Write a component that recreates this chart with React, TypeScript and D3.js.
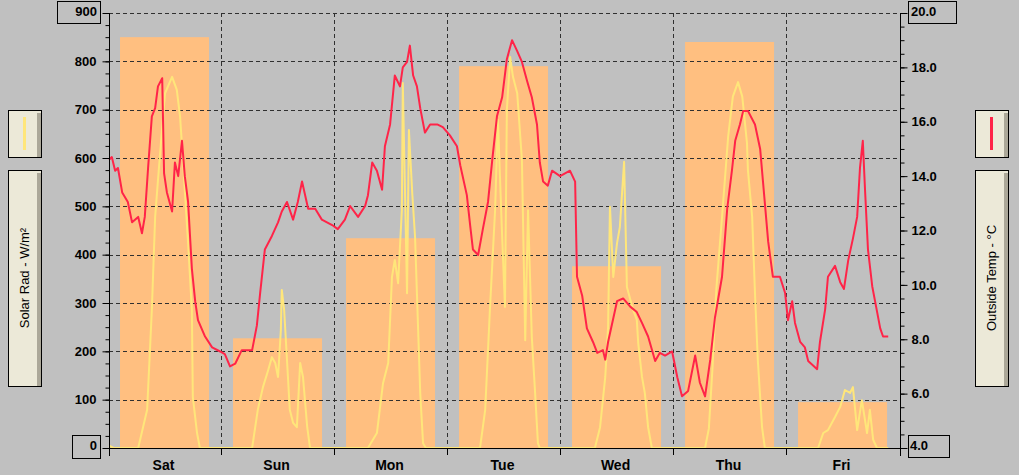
import React, { useEffect, useRef } from 'react';
import * as d3 from 'd3';

// daily bars (solar energy per day, read on the left W/m² scale)
const days = ['Sat', 'Sun', 'Mon', 'Tue', 'Wed', 'Thu', 'Fri'];
const dailySolar = [850, 227, 434, 790, 376, 840, 95];

const solarTicks = [100, 200, 300, 400, 500, 600, 700, 800];
const tempTicks = [6, 8, 10, 12, 14, 16, 18];

// [hours since Sat 00:00, W/m²]
const solarReadings: [number, number][] = [
  [0, 5], [1, 0], [6.2, 0], [8.1, 79], [9.1, 286], [9.8, 478], [10.4, 554], [11.3, 664], [11.9, 734],
  [13.4, 768], [14.4, 741], [15.1, 685], [15.7, 596], [16.8, 424], [17.6, 286], [17.8, 106], [18.7, 31], [19.3, 0],
  [30.4, 0], [31.6, 79], [32.7, 126], [33.8, 161], [34.6, 188], [35.3, 176], [35.9, 147], [36.5, 244], [36.7, 327],
  [37.2, 286], [37.8, 182], [38.4, 79], [39.1, 52], [39.9, 43], [40.6, 176], [41.2, 147], [42.1, 43], [42.7, 0],
  [55.0, 0], [56.9, 31], [58.2, 134], [59.3, 176], [60.1, 354], [60.7, 389], [61.4, 341], [62.2, 492], [62.4, 755],
  [63.3, 320], [63.7, 658], [64.4, 528], [65.0, 437], [65.4, 320], [66.1, 114], [66.7, 10], [67.3, 0],
  [78.8, 0], [79.9, 79], [80.9, 286], [82.0, 492], [82.6, 679], [83.5, 437], [84.1, 292], [84.5, 699], [85.2, 809],
  [85.8, 768], [86.7, 734], [87.7, 596], [88.4, 223], [89.0, 492], [89.8, 230], [90.5, 114], [91.1, 10], [91.5, 0],
  [103.2, 0], [104.3, 43], [105.4, 147], [106.0, 250], [106.4, 499], [107.1, 354], [107.9, 424], [108.5, 457],
  [109.4, 592], [110.0, 333], [111.3, 286], [112.1, 265], [112.4, 217], [113.2, 147], [113.8, 114], [114.5, 43], [115.3, 0],
  [126.6, 0], [127.4, 40], [128.2, 170], [129.0, 330], [130.2, 478], [131.5, 644], [132.5, 727], [133.6, 757],
  [134.5, 727], [135.5, 631], [135.7, 575], [136.6, 478], [137.2, 320], [137.8, 182], [138.7, 43], [139.3, 0],
  [150.6, 0], [151.7, 31], [152.7, 37], [154.2, 64], [155.3, 85], [156.3, 120], [157.4, 114], [158.0, 126],
  [158.9, 37], [159.9, 99], [161.0, 31], [161.6, 79], [162.3, 17], [163.1, 0], [165.5, 0],
];

// [hours since Sat 00:00, °C]
const tempReadings: [number, number][] = [
  [0, 14.6], [0.6, 14.7], [1.3, 14.2], [1.9, 14.3], [2.8, 13.4], [4.0, 13.05], [4.9, 12.3], [6.2, 12.5], [7.0, 11.9],
  [7.6, 12.5], [8.3, 14.3], [9.1, 16.2], [9.8, 16.5], [10.4, 17.3], [11.3, 17.6], [11.7, 14.1], [12.3, 13.4],
  [13.4, 12.7], [14.0, 14.5], [14.7, 14.0], [15.5, 15.3], [16.1, 14.0], [16.8, 13.05], [17.6, 10.6], [18.3, 9.4],
  [18.9, 8.7], [20.4, 8.1], [21.9, 7.7], [23.6, 7.55], [24.6, 7.45], [25.7, 7.0], [26.8, 7.1], [28.2, 7.6],
  [30.4, 7.6], [31.4, 8.5], [32.1, 9.7], [33.1, 11.3], [34.6, 11.8], [35.9, 12.3], [36.7, 12.7], [37.8, 13.05],
  [39.1, 12.4], [40.1, 13.05], [41.0, 13.8], [42.3, 12.8], [43.8, 12.8], [45.2, 12.4], [47.4, 12.2], [48.6, 12.05],
  [50.1, 12.4], [51.2, 12.9], [52.9, 12.5], [54.4, 12.9], [55.0, 13.3], [55.9, 14.5], [56.9, 14.2], [58.0, 13.5],
  [58.6, 15.1], [59.7, 15.9], [60.7, 17.7], [61.8, 17.3], [62.4, 18.0], [63.3, 18.2], [63.9, 18.8], [64.6, 17.7],
  [65.4, 17.3], [66.1, 16.5], [67.1, 15.6], [68.2, 15.9], [69.7, 15.9], [70.9, 15.8], [72.4, 15.5], [73.9, 15.1],
  [74.6, 14.4], [76.0, 13.3], [76.7, 12.2], [77.3, 11.3], [78.4, 11.1], [79.4, 12.05], [80.5, 13.05], [81.4, 14.6],
  [82.4, 16.2], [83.5, 16.9], [84.5, 18.3], [85.6, 19.0], [86.7, 18.6], [87.7, 18.2], [88.8, 17.5], [89.8, 16.9],
  [90.9, 15.9], [91.5, 14.5], [92.2, 13.8], [93.2, 13.65], [94.1, 14.2], [95.8, 14.0], [97.9, 14.2], [99.0, 13.8],
  [99.4, 10.3], [100.5, 9.6], [101.5, 8.4], [102.8, 7.9], [103.7, 7.5], [104.9, 7.6], [105.4, 7.25], [106.0, 7.9],
  [107.9, 9.4], [109.2, 9.5], [110.7, 9.2], [112.1, 9.0], [113.2, 8.6], [114.5, 8.1], [116.0, 7.2], [117.0, 7.5],
  [118.1, 7.4], [119.6, 7.55], [120.7, 6.6], [121.7, 5.9], [123.0, 6.1], [124.5, 7.4], [125.5, 6.4], [126.6, 5.9],
  [127.7, 7.25], [128.7, 8.8], [130.2, 10.3], [131.3, 12.8], [132.3, 14.2], [133.0, 15.3], [134.0, 15.9],
  [134.7, 16.4], [135.7, 16.4], [137.2, 15.9], [138.3, 15.0], [138.9, 13.8], [140.0, 11.6], [141.0, 10.3],
  [142.5, 10.3], [143.6, 9.7], [144.2, 8.7], [145.1, 9.4], [145.7, 8.6], [146.8, 7.9], [147.8, 7.7], [148.5, 7.2],
  [150.4, 6.9], [151.0, 7.9], [152.1, 9.1], [152.7, 10.3], [154.2, 10.7], [155.3, 10.1], [156.1, 9.85],
  [157.0, 10.9], [158.0, 11.7], [158.9, 12.5], [159.5, 14.3], [160.1, 15.3], [160.6, 13.4], [161.2, 11.3],
  [162.1, 9.95], [162.7, 9.4], [163.8, 8.4], [164.4, 8.1], [165.5, 8.1],
];

const FONT = '"Liberation Sans", Arial, sans-serif';

const WeatherChart = () => {
  const chartRef = useRef<SVGSVGElement>(null);

  useEffect(() => {
    document.body.style.margin = '0';

    const width = 1019;
    const height = 475;
    const margin = { top: 13, right: 119, bottom: 27, left: 109 };
    const plotRight = width - margin.right;
    const plotBottom = height - margin.bottom;

    const svg = d3.select(chartRef.current).attr('width', width).attr('height', height);
    svg.selectAll('*').remove();

    svg.append('rect').attr('width', width).attr('height', height).attr('fill', '#c0c0c0');

    // scales
    const xTime = d3.scaleLinear().domain([0, 168]).range([margin.left, plotRight]);
    const xDay = d3.scaleBand().domain(days).range([margin.left, plotRight]).paddingInner(0.2124).paddingOuter(0.106).align(0.46);
    const ySolar = d3.scaleLinear().domain([0, 900]).range([plotBottom, margin.top]);
    const yTemp = d3.scaleLinear().domain([4, 20]).range([plotBottom, margin.top]);
    const dayStart = (d: string) => Math.round(xDay(d)! - xDay.step() * 0.106) + 0.5;

    // daily bars
    svg
      .selectAll('.bar')
      .data(dailySolar)
      .enter()
      .append('rect')
      .attr('class', 'bar')
      .attr('x', (d, i) => xDay(days[i]))
      .attr('y', (d) => ySolar(d))
      .attr('width', xDay.bandwidth())
      .attr('height', (d) => ySolar(0) - ySolar(d))
      .attr('fill', '#ffbf80');

    // grid
    const grid = svg.append('g').attr('stroke', '#303030').attr('stroke-dasharray', '4,3').attr('shape-rendering', 'crispEdges');
    grid
      .selectAll('line.h')
      .data([...solarTicks, 900])
      .enter()
      .append('line')
      .attr('x1', margin.left)
      .attr('x2', plotRight)
      .attr('y1', (d) => Math.round(ySolar(d)) + 0.5)
      .attr('y2', (d) => Math.round(ySolar(d)) + 0.5);
    grid
      .selectAll('line.v')
      .data(days.slice(1))
      .enter()
      .append('line')
      .attr('x1', dayStart)
      .attr('x2', dayStart)
      .attr('y1', margin.top)
      .attr('y2', plotBottom);

    // series
    const solarLine = d3
      .line<[number, number]>()
      .x((d) => xTime(d[0]))
      .y((d) => ySolar(d[1]));
    const tempLine = d3
      .line<[number, number]>()
      .x((d) => xTime(d[0]))
      .y((d) => yTemp(d[1]));

    svg
      .append('path')
      .datum(solarReadings)
      .attr('d', solarLine)
      .attr('fill', 'none')
      .attr('stroke', '#ffe67a')
      .attr('stroke-width', 2)
      .attr('stroke-linejoin', 'round');
    svg
      .append('path')
      .datum(tempReadings)
      .attr('d', tempLine)
      .attr('fill', 'none')
      .attr('stroke', '#ff2448')
      .attr('stroke-width', 2)
      .attr('stroke-linejoin', 'round');

    // frame + bottom axis
    const frame = svg.append('g').attr('stroke', '#000').attr('shape-rendering', 'crispEdges');
    frame.append('line').attr('x1', margin.left - 6).attr('x2', plotRight).attr('y1', plotBottom + 0.5).attr('y2', plotBottom + 0.5);
    frame.append('line').attr('x1', margin.left + 0.5).attr('x2', margin.left + 0.5).attr('y1', margin.top).attr('y2', plotBottom + 8);
    frame.append('line').attr('x1', plotRight + 0.5).attr('x2', plotRight + 0.5).attr('y1', margin.top).attr('y2', plotBottom + 8);
    frame
      .selectAll('line.dt')
      .data(days.slice(1))
      .enter()
      .append('line')
      .attr('x1', dayStart)
      .attr('x2', dayStart)
      .attr('y1', plotBottom)
      .attr('y2', plotBottom + 7);

    svg
      .selectAll('.day-label')
      .data(days)
      .enter()
      .append('text')
      .attr('class', 'day-label')
      .attr('x', (d) => xDay(d)! + xDay.bandwidth() / 2 - 1)
      .attr('y', plotBottom + 22)
      .attr('text-anchor', 'middle')
      .style('font-family', FONT)
      .style('font-weight', 'bold')
      .style('font-size', '14px')
      .text((d) => d);

    // left axis: minor ticks, then major ticks with labels
    svg
      .append('g')
      .attr('transform', `translate(${margin.left + 0.5},0)`)
      .call(d3.axisLeft(ySolar).tickValues(d3.range(0, 901, 25)).tickSize(4).tickFormat(() => ''))
      .call((g) => g.select('.domain').remove());
    svg
      .append('g')
      .attr('transform', `translate(${margin.left + 0.5},0)`)
      .call(d3.axisLeft(ySolar).tickValues([0, ...solarTicks, 900]).tickSize(7).tickPadding(6).tickFormat((d) => (d === 0 || d === 900 ? '' : String(d))))
      .call((g) => g.select('.domain').remove())
      .call((g) => g.selectAll('text').style('font-family', FONT).style('font-weight', 'bold').style('font-size', '13px'));

    // right axis
    svg
      .append('g')
      .attr('transform', `translate(${plotRight + 0.5},0)`)
      .call(d3.axisRight(yTemp).tickValues(d3.range(4, 20.01, 0.5)).tickSize(4).tickFormat(() => ''))
      .call((g) => g.select('.domain').remove());
    svg
      .append('g')
      .attr('transform', `translate(${plotRight + 0.5},0)`)
      .call(d3.axisRight(yTemp).tickValues([4, ...tempTicks, 20]).tickSize(7).tickPadding(4).tickFormat((d) => (d === 4 || d === 20 ? '' : d3.format('.1f')(d as number))))
      .call((g) => g.select('.domain').remove())
      .call((g) => g.selectAll('text').style('font-family', FONT).style('font-weight', 'bold').style('font-size', '13px'));

    // end-value boxes
    const endBoxes = [
      { x: 57, y: 1, w: 43, h: 22, text: '900', tx: 97, ty: 16, anchor: 'end' },
      { x: 72, y: 435, w: 28, h: 23, text: '0', tx: 97, ty: 450, anchor: 'end' },
      { x: 908, y: 1, w: 48, h: 22, text: '20.0', tx: 911, ty: 16, anchor: 'start' },
      { x: 908, y: 435, w: 41, h: 22, text: '4.0', tx: 910, ty: 450, anchor: 'start' },
    ];
    const eb = svg.selectAll('.end-box').data(endBoxes).enter().append('g').attr('class', 'end-box');
    eb.append('rect')
      .attr('x', (d) => d.x + 0.5)
      .attr('y', (d) => d.y + 0.5)
      .attr('width', (d) => d.w)
      .attr('height', (d) => d.h)
      .attr('fill', 'none')
      .attr('stroke', '#000')
      .attr('shape-rendering', 'crispEdges');
    eb.append('text')
      .attr('x', (d) => d.tx)
      .attr('y', (d) => d.ty)
      .attr('text-anchor', (d) => d.anchor)
      .style('font-family', FONT)
      .style('font-weight', 'bold')
      .style('font-size', '13px')
      .text((d) => d.text);

    // legend panels
    const panels = [
      { x: 8, color: '#ffe67a', label: 'Solar Rad - W/m²' },
      { x: 975, color: '#ff2448', label: 'Outside Temp - °C' },
    ];
    panels.forEach((p) => {
      const g = svg.append('g').attr('shape-rendering', 'crispEdges');
      [
        [110, 47],
        [170, 216],
      ].forEach(([y, h]) => {
        g.append('rect').attr('x', p.x + 0.5).attr('y', y + 0.5).attr('width', 33).attr('height', h).attr('fill', '#ece9d8').attr('stroke', '#000');
        g.append('rect').attr('x', p.x + 29).attr('y', y + 3).attr('width', 4).attr('height', h - 3).attr('fill', '#aca899');
      });
      g.append('line')
        .attr('x1', p.x + 16.5)
        .attr('x2', p.x + 16.5)
        .attr('y1', 117)
        .attr('y2', 150)
        .attr('stroke', p.color)
        .attr('stroke-width', 3)
        .attr('shape-rendering', 'auto');
      svg
        .append('text')
        .attr('transform', `translate(${p.x + 21},278) rotate(-90)`)
        .attr('text-anchor', 'middle')
        .style('font-family', FONT)
        .style('font-size', '13px')
        .style('fill', '#000')
        .text(p.label);
    });
  }, []);

  return <svg ref={chartRef} style={{ display: 'block' }}></svg>;
};

export default function App() {
  return <WeatherChart />;
}
